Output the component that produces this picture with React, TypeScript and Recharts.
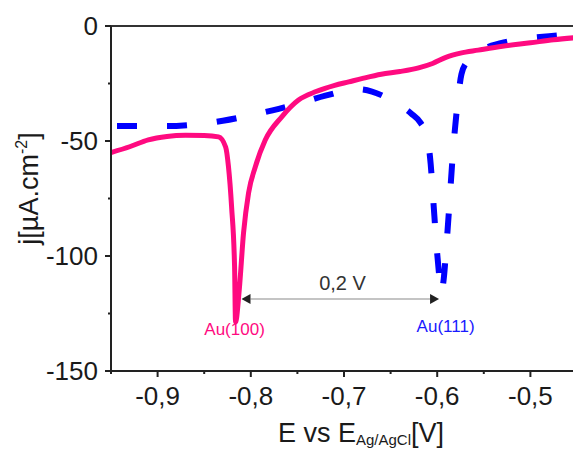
import React from 'react';
import { LineChart, Line, XAxis, YAxis, ReferenceLine, ReferenceDot } from 'recharts';

// ---- axis ticks ----
const xTicks = [-0.95, -0.9, -0.85, -0.8, -0.75, -0.7, -0.65, -0.6, -0.55, -0.5, -0.45];
const xMajorTicks = [-0.9, -0.8, -0.7, -0.6, -0.5];
const yTicks = [0, -25, -50, -75, -100, -125, -150];
const yMajorTicks = [0, -50, -100, -150];

// ---- Au(100) : solid pink curve ----
const au100E = [-0.95, -0.93, -0.91, -0.89, -0.87, -0.85, -0.8346, -0.827, -0.824, -0.8206, -0.8174, -0.8164,
  -0.8124, -0.8078, -0.8024, -0.7952, -0.7845, -0.767, -0.7488, -0.73, -0.71, -0.695, -0.68, -0.66, -0.64,
  -0.62, -0.605, -0.59, -0.575, -0.556, -0.53, -0.5, -0.475, -0.45];
const au100J = [-55, -52.5, -49.5, -48, -47.5, -47.6, -48.2, -52.6, -61, -78.7, -104.8, -128.7,
  -114.8, -90, -72.6, -61.3, -49.6, -39.6, -32.2, -28.5, -25.8, -24.3, -22.8, -21, -19.8,
  -18.2, -16.3, -13.5, -11.8, -10.5, -8.8, -7.3, -6, -5];

// ---- Au(111) : dashed blue curve ----
const au111E = [-0.95, -0.92, -0.89, -0.86, -0.83, -0.8, -0.77, -0.745, -0.72, -0.7, -0.685, -0.67, -0.655,
  -0.64, -0.628, -0.618, -0.611, -0.607, -0.604, -0.601, -0.598, -0.596, -0.593, -0.59, -0.587, -0.584,
  -0.581, -0.578, -0.574, -0.567, -0.559, -0.545, -0.527, -0.504, -0.48, -0.45];
const au111J = [-43.5, -43.5, -43.5, -42.8, -41.2, -38.8, -36, -33.2, -30.3, -28.3, -27.5, -28.5, -31,
  -34.5, -38, -42, -48, -60, -77, -94, -108, -116, -110, -95, -78, -60,
  -45, -33, -21, -15, -11.5, -9, -7, -5.4, -4.4, -3.3];

// ---- annotations ----
const peakLabels = ['Au(100)', 'Au(111)'];
const peakLabelE = [-0.8174, -0.591];
const peakLabelJ = [-131.5, -130.5];
const arrowE = [-0.81, -0.598];
const arrowJ = -118.7;
const arrowText = '0,2 V';
const arrowTextE = -0.7016;

const au100 = au100E.map((E, i) => ({ E, j: au100J[i] }));
const au111 = au111E.map((E, i) => ({ E, j: au111J[i] }));

const PINK = '#ff0a80';
const BLUE = '#0000ff';
const AXIS = '#222222';
const FONT = '"Liberation Sans", Arial, sans-serif';

const isIn = (arr: number[], v: number) => arr.some((a) => Math.abs(a - v) < 1e-6);

const XTick = (props: any) => {
  const { x, y, payload } = props;
  const major = isIn(xMajorTicks, payload.value);
  return (
    <g>
      <line x1={x} x2={x} y1={y} y2={y + (major ? 6 : 3)} stroke={AXIS} strokeWidth={2} />
      {major && (
        <text x={x} y={y + 34} textAnchor="middle" fontSize={26} fontFamily={FONT} fill="#1a1a1a">
          {payload.value.toFixed(1).replace('.', ',')}
        </text>
      )}
    </g>
  );
};

const YTick = (props: any) => {
  const { x, y, payload } = props;
  const major = isIn(yMajorTicks, payload.value);
  return (
    <g>
      <line x1={x} x2={x - (major ? 6 : 3)} y1={y} y2={y} stroke={AXIS} strokeWidth={2} />
      {major && (
        <text x={x - 13} y={y + 9} textAnchor="end" fontSize={26} fontFamily={FONT} fill="#1a1a1a">
          {String(payload.value)}
        </text>
      )}
    </g>
  );
};

const XLabel = (props: any) => {
  const { viewBox } = props;
  const cx = viewBox.x + viewBox.width / 2 + 17;
  return (
    <text x={cx} y={viewBox.y + 71} textAnchor="middle" fontSize={27} fontFamily={FONT} fill="#1a1a1a">
      <tspan>E vs E</tspan>
      <tspan fontSize={15} dy={3}>Ag/AgCl</tspan>
      <tspan dy={-3}>[V]</tspan>
    </text>
  );
};

const YLabel = (props: any) => {
  const { viewBox } = props;
  const cx = viewBox.x + 38;
  const cy = viewBox.y + viewBox.height / 2 - 10;
  return (
    <text x={cx} y={cy} transform={`rotate(-90 ${cx} ${cy})`} textAnchor="middle" fontSize={27} fontFamily={FONT} fill="#1a1a1a">
      <tspan>j[µA.cm</tspan>
      <tspan fontSize={16} dy={-11}>-2</tspan>
      <tspan dy={11}>]</tspan>
    </text>
  );
};

const ArrowShape = (props: any) => {
  const { x1, y1, x2, y2 } = props;
  const h = 9;
  const w = 5;
  return (
    <g>
      <line x1={x1 + h} y1={y1} x2={x2 - h} y2={y2} stroke="#b0b0b0" strokeWidth={1.5} />
      <polygon points={`${x1},${y1} ${x1 + h},${y1 - w} ${x1 + h},${y1 + w}`} fill="#222" />
      <polygon points={`${x2},${y2} ${x2 - h},${y2 - w} ${x2 - h},${y2 + w}`} fill="#222" />
    </g>
  );
};

const makeTextShape = (text: string, color: string, size: number) => (props: any) => (
  <text x={props.cx} y={props.cy + size * 0.36} textAnchor="middle" fontSize={size} fontFamily={FONT} fill={color}>
    {text}
  </text>
);

export default function App() {
  return (
    <div style={{ position: 'absolute', left: 0, top: 0, width: 573, height: 449, overflow: 'hidden', background: '#fff' }}>
      <LineChart width={577} height={449} margin={{ top: 26, right: 0, bottom: 0, left: 0 }}>
        <XAxis
          dataKey="E"
          type="number"
          domain={[-0.95, -0.45]}
          ticks={xTicks}
          interval={0}
          allowDataOverflow
          tickLine={false}
          tickSize={0}
          tickMargin={0}
          tick={<XTick />}
          height={78}
          axisLine={{ stroke: AXIS, strokeWidth: 2 }}
          label={<XLabel />}
        />
        <YAxis
          type="number"
          domain={[-150, 0]}
          ticks={yTicks}
          interval={0}
          allowDataOverflow
          tickLine={false}
          tickSize={0}
          tickMargin={0}
          tick={<YTick />}
          width={111}
          axisLine={{ stroke: AXIS, strokeWidth: 2 }}
          label={<YLabel />}
        />
        <ReferenceLine y={0} stroke="#333" strokeWidth={2} ifOverflow="visible" />
        <Line
          data={au111}
          dataKey="j"
          type="monotone"
          stroke={BLUE}
          strokeWidth={6}
          strokeDasharray="20 30"
          strokeDashoffset={44}
          dot={false}
          activeDot={false}
          isAnimationActive={false}
        />
        <Line
          data={au100}
          dataKey="j"
          type="monotone"
          stroke={PINK}
          strokeWidth={5}
          dot={false}
          activeDot={false}
          isAnimationActive={false}
        />
        <ReferenceLine
          segment={[{ x: arrowE[0], y: arrowJ }, { x: arrowE[1], y: arrowJ }]}
          shape={<ArrowShape />}
          ifOverflow="visible"
        />
        <ReferenceDot x={arrowTextE} y={arrowJ + 7} r={0} ifOverflow="visible" shape={makeTextShape(arrowText, '#333', 20)} />
        <ReferenceDot x={peakLabelE[0]} y={peakLabelJ[0]} r={0} ifOverflow="visible" shape={makeTextShape(peakLabels[0], PINK, 17)} />
        <ReferenceDot x={peakLabelE[1]} y={peakLabelJ[1]} r={0} ifOverflow="visible" shape={makeTextShape(peakLabels[1], '#1a1aff', 17)} />
      </LineChart>
    </div>
  );
}
